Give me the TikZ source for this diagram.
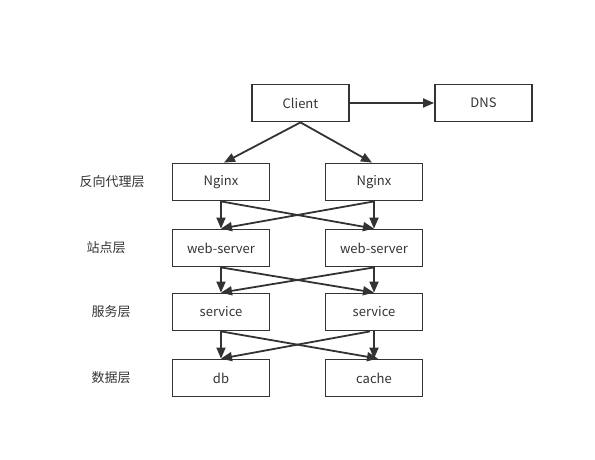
\documentclass[tikz,border=0pt]{standalone}
\usepackage{tikz}
\usepackage{xcolor}
\usepackage{fontspec}
\setmainfont{Noto Sans CJK SC}
\usetikzlibrary{arrows.meta}
\definecolor{linegray}{HTML}{333333}
\tikzset{%
  tipA/.tip={Triangle[length=11pt,width=9pt]},
  tierbox/.style={draw=linegray, line width=1.8pt, minimum width=97pt, minimum height=37pt, inner sep=0pt, font=\fontsize{13}{15}\selectfont, text=linegray},
  tierlabel/.style={font=\fontsize{13}{15}\selectfont, text=linegray},
  flow/.style={draw=linegray, line width=1.8pt, -tipA}
}

\begin{document}
\begin{tikzpicture}[x=1pt,y=-1pt]
    \useasboundingbox (0,0) rectangle (595,460);
    \node[tierbox] (client) at (300.5,103) {Client};
    \node[tierbox] (dns) at (483.5,103) {DNS};
    \node[tierbox] (nginxA) at (221,182) {Nginx};
    \node[tierbox] (nginxB) at (374,182) {Nginx};
    \node[tierbox] (webA) at (221,248) {web-server};
    \node[tierbox] (webB) at (374,248) {web-server};
    \node[tierbox] (serviceA) at (221,312) {service};
    \node[tierbox] (serviceB) at (374,312) {service};
    \node[tierbox] (db) at (221,378) {db};
    \node[tierbox] (cache) at (374,378) {cache};
    \node[tierlabel] (proxyT) at (112,182) {反向代理层};
    \node[tierlabel] (siteT) at (106,248) {站点层};
    \node[tierlabel] (serviceT) at (111,312) {服务层};
    \node[tierlabel] (dataT) at (111,378) {数据层};
    \draw[flow] (client) -- (dns);
    \draw[flow] (client.south) -- ([xshift=3pt]nginxA.north);
    \draw[flow] (client.south) -- ([xshift=-2pt]nginxB.north);
    \draw[flow] (nginxA.south) -- (webA.north);
    \draw[flow] (nginxA.south) -- (webB.north);
    \draw[flow] (nginxB.south) -- (webB.north);
    \draw[flow] (nginxB.south) -- (webA.north);
    \draw[flow] (webA.south) -- (serviceA.north);
    \draw[flow] (webA.south) -- (serviceB.north);
    \draw[flow] (webB.south) -- (serviceB.north);
    \draw[flow] (webB.south) -- (serviceA.north);
    \draw[flow] (serviceA.south) -- (db.north);
    \draw[flow] (serviceA.south) -- ([xshift=4pt]cache.north);
    \draw[flow] (serviceB.south) -- (cache.north);
    \draw[flow] ([xshift=-4pt]serviceB.south) -- (db.north);
\end{tikzpicture}
\end{document}
